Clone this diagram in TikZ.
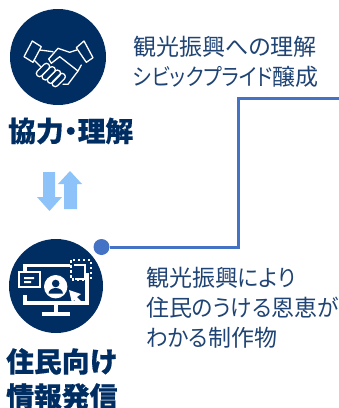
\documentclass[tikz,border=0pt]{standalone}
\usepackage{fontspec}
\newfontfamily\cjk[RawFeature=+palt,BoldFeatures={FakeBold=0.5}]{Noto Sans CJK JP}
\newfontfamily\kana[RawFeature=+palt,FakeStretch=0.87]{Noto Sans CJK JP}
\newfontfamily\kanb[RawFeature=+palt,FakeStretch=0.94]{Noto Sans CJK JP}
\definecolor{navy}{HTML}{002D62}
\definecolor{inktext}{HTML}{1F4373}
\definecolor{linkblue}{HTML}{4472C4}
\definecolor{sky}{HTML}{8DC3F8}
\tikzset{
  px/.style={x=1pt,y=-1pt},
  badge/.style={circle,fill=navy,draw=none,inner sep=0pt},
  body/.style={font=\cjk\fontsize{23}{30}\selectfont,text=inktext,align=left,anchor=west,inner sep=0pt},
  head/.style={font=\cjk\bfseries\fontsize{27.8}{35}\selectfont,text=navy,align=left,anchor=west,inner sep=0pt},
  link/.style={draw=linkblue,line width=3pt},
  icon/.style={draw=white,line width=1.3pt,line join=round,line cap=round},
  scr/.style={draw=white,line width=3.5pt},
  flow/.style={fill=sky,draw=none}
}
\begin{document}
\begin{tikzpicture}[px]
\useasboundingbox (0,0) rectangle (339,408);
% badges
\node[badge,minimum size=96pt] (top) at (58,57) {};
\node[badge,minimum size=94pt] (bottom) at (56,286) {};
% handshake icon
\draw[icon] (32.3,41)--(41.3,46.7)--(33,62.3)--(24,56.7)--cycle;
\draw[icon] (84,41)--(93,57.7)--(86.3,62.3)--(76.3,47.7)--cycle;
\draw[icon] (39.7,50)--(53,51.7);
\draw[icon] (76.7,50)--(69.7,52.3)--(58,48.3)--(48.7,59)--(51.3,63.3)--(59.7,56.7)--(78,71);
\draw[icon] (81.3,65)--(78,71)--(68,84.3)--(63,84.3);
\draw[icon] (34,60)--(40.7,66.7);
\foreach \cx/\cy in {43/70,48.7/73.3,54/76.7,58.7/80}{
  \draw[icon,rounded corners=3pt,rotate around={45:(\cx,\cy)}] (\cx-8,\cy-3.2) rectangle (\cx+8,\cy+3.2);
}
% monitor icon
\draw[scr] (25,295)--(25,303)--(87,303)--(87,273);
\draw[scr] (25,273)--(25,265.3)--(70,265.3);
\draw[scr] (56,303)--(56,314);
\draw[scr] (41.7,314)--(70,314);
\draw[draw=white,line width=2pt] (74,265.3)--(85,265.3)--(85,279.3)--(75,279.3);
\draw[draw=white,line width=2.5pt,dash pattern=on 2.5pt off 2.5pt] (71,260)rectangle(91,279.5);
\draw[draw=white,line width=2.2pt,fill=navy] (18.8,272)rectangle(40,286.7);
\fill[white] (24,277)rectangle(34,279.2) (24,281)rectangle(31,283.2);
\fill[white] (55.7,286.7) circle (11.7);
\fill[navy] (55.7,283.5) circle (3.8);
\fill[navy] (48.5,293.5) arc[start angle=180,end angle=0,x radius=7.2,y radius=-5.5]--cycle;
\fill[white] (69,290)--(81,294)--(77,297)--(81.5,301.5)--(78.5,304)--(74,300)--(72,303)--cycle;
% exchange arrows
\fill[flow] (43,172)--(55,172)--(55,197)--(62,197)--(49.5,211)--(37,197)--(43,197)--cycle;
\fill[flow] (64,209)--(77,209)--(77,184)--(82,184)--(70,171)--(58,184)--(64,184)--cycle;
% connector
\node[circle,fill=linkblue,minimum size=16pt,inner sep=0pt] (dot) at (101.5,247) {};
\coordinate (exit) at (339,98);
\draw[link] (dot.east)-|(238,98)--(exit);
% labels
\node[body] (t1) at (133,62) {観光振興への理解\\{\kana シビックプライド}醸成};
\node[body] (t2) at (146,308) {観光振興{\kanb により}\\住民{\kanb のうける}恩恵{\kanb が}\\{\kanb わかる}制作物};
\node[head] (h1) at (8,131) {協力・理解};
\node[head] (h2) at (6,379) {住民向け\\情報発信};
\end{tikzpicture}
\end{document}
